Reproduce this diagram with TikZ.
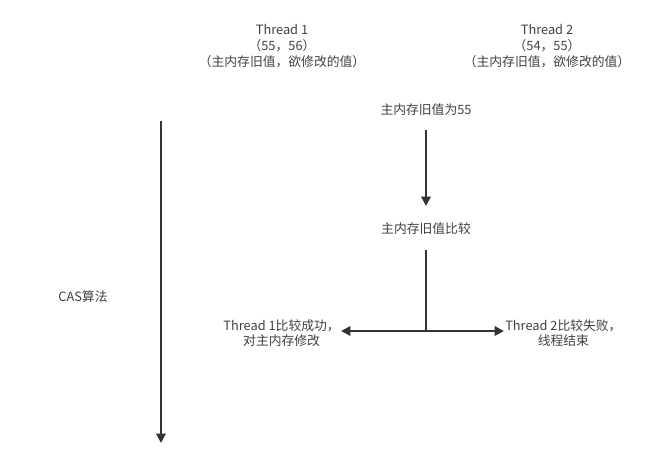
\documentclass[tikz,border=0pt]{standalone}
\usepackage{fontspec}
\setmainfont{Noto Sans CJK SC}
\usetikzlibrary{arrows.meta}

\begin{document}
\begin{tikzpicture}[x=0.75pt,y=0.75pt,yscale=-1,xscale=1,
  lbl/.style={inner sep=0.75pt,align=center,text=black!75,font=\fontsize{9.6}{11.8}\selectfont},
  flow/.style={draw=black!80,line width=1.5pt,-{Triangle[length=7pt,width=7pt]}}]
\useasboundingbox (0,0) rectangle (664,464);

% Text Node
\node (t1) [lbl] at (282,46) {Thread 1\\（55，56）\\（主内存旧值，欲修改的值）};
% Text Node
\node (t2) [lbl] at (547,46) {Thread 2\\（54，55）\\（主内存旧值，欲修改的值）};
% Text Node
\node (old) [lbl] at (426,110) {主内存旧值为55};
% Text Node
\node (cmp) [lbl] at (426,229) {主内存旧值比较};
% Text Node
\node (ok) [lbl,anchor=east] at (341,333) {Thread 1比较成功，\\对主内存修改};
% Text Node
\node (fail) [lbl,anchor=west] at (504,333) {Thread 2比较失败，\\线程结束};
% Text Node
\node (cas) [lbl] at (83,297) {CAS算法};

\coordinate (top) at (161,121);
\coordinate (bot) at (161,443);
\coordinate (fork) at (426,331);

%Straight Lines
\draw [flow] (top) -- (bot);
%Straight Lines
\draw [flow] (old.south |- 0,130) -- (cmp.north |- 0,206);
%Straight Lines
\draw [draw=black!80,line width=1.5pt] (cmp.south |- 0,250) -- (fork);
%Straight Lines
\draw [flow] (fork) -- (ok.east |- fork);
%Straight Lines
\draw [flow] (fork) -- (fail.west |- fork);

\end{tikzpicture}
\end{document}
